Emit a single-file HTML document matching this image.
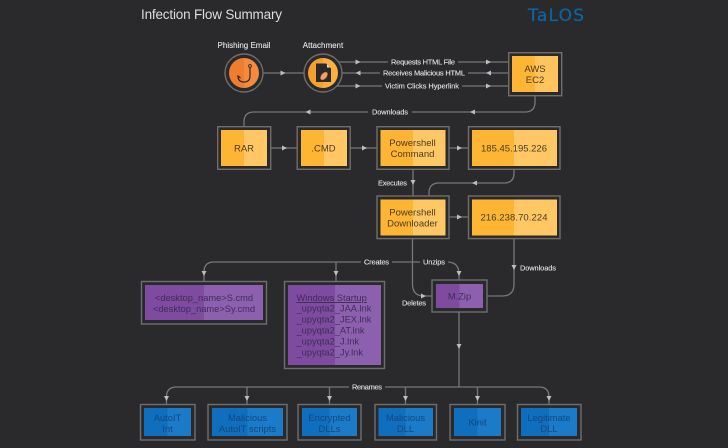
<!DOCTYPE html>
<html><head><meta charset="utf-8"><style>
html,body{margin:0;padding:0;background:#2a2a2c;width:728px;height:448px;overflow:hidden}
svg{display:block;font-family:"Liberation Sans",sans-serif}
.l{fill:none;stroke:#777;stroke-width:1.3}
.o{fill:#2a2a2c;stroke:#6e6e6e;stroke-width:1.4}
.a{fill:#bdbdbd}
.lb{font-size:7.4px;fill:#e2e2e2;text-anchor:middle;font-weight:400;stroke:#e2e2e2;stroke-width:.12}
.am{font-size:9.5px;fill:#4a3d22;text-anchor:middle}
.pu{font-size:9.3px;fill:#3f2c58}
.bl{font-size:9.4px;fill:#12487d;text-anchor:middle}
</style></head><body>
<svg width="728" height="448" viewBox="0 0 728 448" xmlns="http://www.w3.org/2000/svg">
<rect width="728" height="448" fill="#2a2a2c"/>
<text x="141" y="19" font-size="13.5" fill="#dcdcdc" textLength="141">Infection Flow Summary</text>
<text x="528" y="21" font-family="DejaVu Sans" font-size="17" fill="#0f639f" stroke="#0f639f" stroke-width=".3" textLength="56">TaLOS</text>

<!-- connectors -->
<path class="l" d="M244 73H323"/>
<path class="l" d="M323 62H508M323 73H508M323 86H508"/>
<path class="l" d="M535 96V102Q535 112 525 112H254Q244 112 244 122V126"/>
<path class="l" d="M271 148H297M350 148H377M449 148H468"/>
<path class="l" d="M413 169V196"/>
<path class="l" d="M514 169V173Q514 183 504 183H439Q429 183 429 193V196"/>
<path class="l" d="M449 217H468"/>
<path class="l" d="M412.5 239V284Q412.5 296 424 296H432"/>
<path class="l" d="M514 239V284Q514 296 502 296H487"/>
<path class="l" d="M459 280V274Q459 262 447 262H214Q204 262 204 272V281"/>
<path class="l" d="M336 262V281"/>
<path class="l" d="M459 312V387"/>
<path class="l" d="M166.5 404V397Q166.5 387 176.5 387H539Q549 387 549 397V404"/>
<path class="l" d="M247 387V404M329.5 387V404M405.5 387V404M477.5 387V404"/>

<!-- label gaps -->
<g fill="#2a2a2c">
<rect x="388" y="57" width="70" height="10"/>
<rect x="380" y="68" width="88" height="10"/>
<rect x="382" y="81" width="80" height="10"/>
<rect x="368" y="107" width="44" height="10"/>
<rect x="361" y="257" width="31" height="10"/>
<rect x="420" y="257" width="28" height="10"/>
<rect x="349" y="382" width="36" height="10"/>
</g>

<!-- arrows -->
<g class="a">
<path d="M280.5 70.5L285.5 73L280.5 75.500Z"/>
<path d="M355.500 59.500L360.500 62L355.500 64.500Z"/>
<path d="M360.500 70.500L355.500 73L360.500 75.500Z"/>
<path d="M355.500 83.500L360.500 86L355.500 88.500Z"/>
<path d="M486 59.500L491 62L486 64.500Z"/>
<path d="M491 70.500L486 73L491 75.500Z"/>
<path d="M486 83.500L491 86L486 88.500Z"/>
<path d="M475 109.500L470 112L475 114.500Z"/>
<path d="M310.500 109.500L305.500 112L310.500 114.500Z"/>
<path d="M282 145.500L287 148L282 150.500Z"/>
<path d="M362 145.500L367 148L362 150.500Z"/>
<path d="M457 145.500L462 148L457 150.500Z"/>
<path d="M457 214.500L462 217L457 219.500Z"/>
<path d="M477 180.500L472 183L477 185.500Z"/>
<path d="M410.500 180L415.500 180L413 185Z"/>
<path d="M421 293.500L426 296L421 298.500Z"/>
<path d="M511.500 265L516.500 265L514 270Z"/>
<path d="M456.500 271L461.500 271L459 276Z"/>
<path d="M456.500 344L461.500 344L459 349Z"/>
<path d="M201.500 271L206.500 271L204 276Z"/>
<path d="M333.500 271L338.500 271L336 276Z"/>
<path d="M164 396L169 396L166.500 401Z"/>
<path d="M244.500 396L249.500 396L247 401Z"/>
<path d="M327 396L332 396L329.500 401Z"/>
<path d="M403 396L408 396L405.500 401Z"/>
<path d="M475 396L480 396L477.500 401Z"/>
<path d="M546.500 396L551.500 396L549 401Z"/>
</g>

<!-- circles -->
<circle class="o" cx="244" cy="73" r="19"/>
<path d="M244 58A15 15 0 0 0 244 88Z" fill="#ee7d2d"/>
<path d="M244 58A15 15 0 0 1 244 88Z" fill="#f58a3d"/>
<path d="M250 67.500V76Q250 82 244 82Q238 82 238 76L240.500 78" fill="none" stroke="#2a2a2c" stroke-width="1.2"/>
<circle cx="250" cy="66" r="1.400" fill="none" stroke="#2a2a2c" stroke-width=".9"/>
<circle class="o" cx="323" cy="73" r="19"/>
<path d="M323 58A15 15 0 0 0 323 88Z" fill="#f6a12f"/>
<path d="M323 58A15 15 0 0 1 323 88Z" fill="#fbb03f"/>
<path d="M316 63.500H326L331 68.500V82H316Z" fill="#2a2a2c"/>
<path d="M327 64.500L330 67.500H327Z" fill="#e8e8e8"/>
<ellipse cx="324" cy="76" rx="2.600" ry="4.500" transform="rotate(40 324 76)" fill="#f4a06a" stroke="#c9703a" stroke-width=".6"/>
<text x="244" y="48" class="lb" style="font-size:8px">Phishing Email</text>
<text x="323" y="48" class="lb" style="font-size:8px">Attachment</text>

<!-- labels -->
<text x="423" y="64.500" class="lb" textLength="64">Requests HTML File</text>
<text x="424" y="75.500" class="lb" textLength="82">Receives Malicious HTML</text>
<text x="422" y="88.500" class="lb" textLength="74">Victim Clicks Hyperlink</text>
<text x="390" y="114.500" class="lb" textLength="36">Downloads</text>
<text x="392.500" y="185.500" class="lb" textLength="29">Executes</text>
<text x="414" y="305.500" class="lb" textLength="24">Deletes</text>
<text x="538" y="270.500" class="lb" textLength="36">Downloads</text>
<text x="434" y="264.500" class="lb" textLength="22">Unzips</text>
<text x="376.500" y="264.500" class="lb" textLength="25">Creates</text>
<text x="367" y="389.500" class="lb" textLength="30">Renames</text>

<!-- amber boxes -->
<g>
<rect class="o" x="508.700" y="52.700" width="53" height="43"/>
<rect x="512" y="56" width="23" height="36" fill="#fdb533"/><rect x="535" y="56" width="23" height="36" fill="#ffc45c"/>
<text x="535" y="72" class="am">AWS</text><text x="535" y="83" class="am">EC2</text>

<rect class="o" x="217.700" y="126.700" width="53" height="42.600"/>
<rect x="221" y="130" width="23" height="36" fill="#fdb533"/><rect x="244" y="130" width="23" height="36" fill="#ffc865"/>
<text x="244" y="151.500" class="am">RAR</text>

<rect class="o" x="297.200" y="126.700" width="53" height="42.600"/>
<rect x="301" y="130" width="23" height="36" fill="#fdb533"/><rect x="324" y="130" width="23" height="36" fill="#ffc865"/>
<text x="323.500" y="151.500" class="am">.CMD</text>

<rect class="o" x="377" y="126.700" width="72" height="42.600"/>
<rect x="380.500" y="130" width="32.500" height="36" fill="#fdb533"/><rect x="413" y="130" width="32.500" height="36" fill="#ffc865"/>
<text x="412.500" y="146" class="am">Powershell</text><text x="412.500" y="157" class="am">Command</text>

<rect class="o" x="468.500" y="126.700" width="91.500" height="42.600"/>
<rect x="472" y="130" width="42" height="36" fill="#fdb533"/><rect x="514" y="130" width="43" height="36" fill="#ffc865"/>
<text x="514" y="151.500" class="am" textLength="66">185.45.195.226</text>

<rect class="o" x="377" y="196" width="72" height="42.600"/>
<rect x="380.500" y="199.500" width="32.500" height="36" fill="#fdb533"/><rect x="413" y="199.500" width="32.500" height="36" fill="#ffc865"/>
<text x="412.500" y="215.500" class="am">Powershell</text><text x="412.500" y="226.500" class="am">Downloader</text>

<rect class="o" x="468.500" y="196" width="91.500" height="42.600"/>
<rect x="472" y="199.500" width="42" height="36" fill="#fdb533"/><rect x="514" y="199.500" width="43" height="36" fill="#ffc865"/>
<text x="514" y="220.500" class="am" textLength="67">216.238.70.224</text>
</g>

<!-- purple boxes -->
<rect class="o" x="141.500" y="281.500" width="125" height="42.500"/>
<rect x="145" y="285" width="59" height="35" fill="#7e4ba0"/><rect x="204" y="285" width="59" height="35" fill="#8d60af"/>
<text x="204" y="301" class="pu" text-anchor="middle">&lt;desktop_name&gt;S.cmd</text>
<text x="204" y="312" class="pu" text-anchor="middle">&lt;desktop_name&gt;Sy.cmd</text>

<rect class="o" x="284.500" y="281.500" width="100" height="87"/>
<rect x="288" y="285" width="47" height="80" fill="#7e4ba0"/><rect x="335" y="285" width="46" height="80" fill="#8d60af"/>
<text x="296.500" y="301" class="pu" text-decoration="underline">Windows Startup</text>
<text x="296.500" y="311.700" class="pu">_upyqta2_JAA.lnk</text>
<text x="296.500" y="322.600" class="pu">_upyqta2_JEX.lnk</text>
<text x="296.500" y="333.400" class="pu">_upyqta2_AT.lnk</text>
<text x="296.500" y="344.400" class="pu">_upyqta2_J.lnk</text>
<text x="296.500" y="355.400" class="pu">_upyqta2_Jy.lnk</text>

<rect class="o" x="432" y="280" width="55" height="32"/>
<rect x="436" y="284" width="23.500" height="24" fill="#7e4ba0"/><rect x="459.500" y="284" width="23.500" height="24" fill="#8d60af"/>
<text x="459.500" y="299.500" class="pu" text-anchor="middle">M.Zip</text>

<!-- blue boxes -->
<rect class="o" x="140.500" y="404.500" width="54.500" height="35.500"/>
<rect x="144" y="408" width="23.500" height="28" fill="#0f6ebd"/><rect x="167.500" y="408" width="23.500" height="28" fill="#1b7bc9"/>
<text x="167.500" y="421" class="bl">AutoIT</text><text x="167.500" y="432" class="bl">Int</text>

<rect class="o" x="208" y="404.500" width="79" height="35.500"/>
<rect x="212" y="408" width="35.500" height="28" fill="#0f6ebd"/><rect x="247.500" y="408" width="35.500" height="28" fill="#1b7bc9"/>
<text x="247.500" y="421" class="bl">Malicious</text><text x="247.500" y="432" class="bl">AutoIT scripts</text>

<rect class="o" x="298" y="404.500" width="63" height="35.500"/>
<rect x="302" y="408" width="27.500" height="28" fill="#0f6ebd"/><rect x="329.500" y="408" width="27.500" height="28" fill="#1b7bc9"/>
<text x="329.500" y="421" class="bl">Encrypted</text><text x="329.500" y="432" class="bl">DLLs</text>

<rect class="o" x="375" y="404.500" width="61.500" height="35.500"/>
<rect x="378.500" y="408" width="27" height="28" fill="#0f6ebd"/><rect x="405.500" y="408" width="27.500" height="28" fill="#1b7bc9"/>
<text x="405.500" y="421" class="bl">Malicious</text><text x="405.500" y="432" class="bl">DLL</text>

<rect class="o" x="450" y="404.500" width="55" height="35.500"/>
<rect x="454" y="408" width="23.500" height="28" fill="#0f6ebd"/><rect x="477.500" y="408" width="23.500" height="28" fill="#1b7bc9"/>
<text x="477.500" y="425.500" class="bl">Kinit</text>

<rect class="o" x="517.500" y="404.500" width="63.500" height="35.500"/>
<rect x="521" y="408" width="28" height="28" fill="#0f6ebd"/><rect x="549" y="408" width="28" height="28" fill="#1b7bc9"/>
<text x="549" y="421" class="bl">Legitimate</text><text x="549" y="432" class="bl">DLL</text>
</svg>
</body></html>
